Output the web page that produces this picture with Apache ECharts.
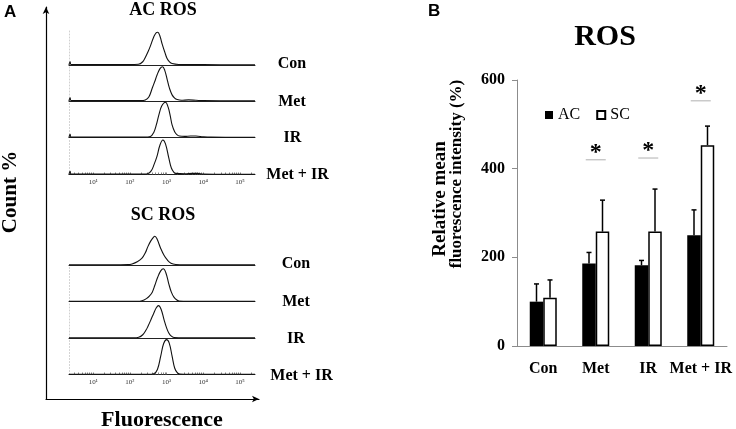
<!DOCTYPE html>
<html><head><meta charset="utf-8">
<script src="https://cdn.jsdelivr.net/npm/echarts@6/dist/echarts.min.js"></script>
<style>html,body{margin:0;padding:0;background:#fff}#c{width:736px;height:429px}</style>
</head><body><div id="c"></div>
<script>
// ---------- DATA ----------
// Panel A: flow cytometry histograms, x = log10(fluorescence), y = relative count (peak-normalised, 0-100)
const histLabels = ['Con', 'Met', 'IR', 'Met + IR'];
const fluorTickValues = [1, 2, 3, 4, 5];
const fluorTickLabels = ['10¹', '10²', '10³', '10⁴', '10⁵'];
const acCon = [[0.34,0],[0.37,9],[0.40,1],[1.0,1],[2.0,1],[2.23,2],[2.35,9],[2.42,21],[2.5,38],[2.56,53],[2.65,78],[2.72,90],[2.76,91],[2.82,80],[2.88,58],[2.95,36],[3.01,19],[3.08,9],[3.15,4],[3.33,1.5],[4.0,1],[5.41,0.5]];
const acMet = [[0.34,0],[0.37,9],[0.40,1],[1.5,1],[2.3,1],[2.42,3],[2.52,12],[2.61,36],[2.68,55],[2.74,72],[2.82,90],[2.89,95],[2.95,85],[3.02,58],[3.08,35],[3.15,17],[3.22,8],[3.29,4],[3.4,2],[3.6,3],[3.8,2],[4.0,1],[5.41,0.5]];
const acIR = [[0.34,0],[0.37,9],[0.40,1],[1.5,1],[2.4,1],[2.56,3],[2.65,14],[2.72,35],[2.79,63],[2.87,88],[2.97,98],[3.04,85],[3.1,60],[3.15,35],[3.22,16],[3.28,8],[3.35,4],[3.5,3],[3.65,4],[3.8,4],[4.0,2],[4.2,1],[5.41,0.5]];
const acMetIR = [[0.34,0],[0.37,9],[0.40,1],[1.5,1],[2.4,1],[2.48,2],[2.58,10],[2.66,28],[2.74,51],[2.82,82],[2.90,96],[2.97,85],[3.06,46],[3.13,18],[3.2,6],[3.25,3],[3.5,2],[3.7,3],[3.85,3],[4.0,1.5],[5.41,0.5]];
const scCon = [[0.34,0.5],[1.5,0.5],[1.95,1],[2.06,3],[2.2,9],[2.33,19],[2.42,34],[2.49,51],[2.57,67],[2.64,77],[2.68,80],[2.74,72],[2.84,46],[2.93,27],[3.02,14],[3.12,5],[3.25,1.5],[3.5,0.5],[5.41,0.5]];
const scMet = [[0.34,0.5],[2.2,0.5],[2.33,2],[2.45,8],[2.53,15],[2.61,26],[2.68,45],[2.76,68],[2.84,85],[2.91,91],[2.98,80],[3.06,49],[3.13,26],[3.2,12],[3.28,4],[3.34,1.5],[3.6,0.5],[5.41,0.5]];
const scIR = [[0.34,0.5],[2.1,0.5],[2.24,2],[2.35,9],[2.44,22],[2.49,32],[2.57,50],[2.65,69],[2.72,84],[2.78,90],[2.85,80],[2.93,51],[3.0,28],[3.06,14],[3.13,5],[3.2,1.5],[3.5,0.5],[5.41,0.5]];
const scMetIR = [[0.34,0.5],[2.5,0.5],[2.65,2],[2.75,14],[2.84,51],[2.92,86],[3.0,97],[3.07,88],[3.15,51],[3.22,18],[3.29,5],[3.36,1.5],[3.6,0.5],[5.41,0.5]];
const acCurves = [acCon, acMet, acIR, acMetIR];
const scCurves = [scCon, scMet, scIR, scMetIR];

// Panel B: relative mean fluorescence intensity (%)
const categories = ['Con', 'Met', 'IR', 'Met + IR'];
const acValues = [100, 186, 182, 250];
const acSD = [40, 25, 11, 57];
const scValues = [109, 258, 258, 453];
const scSD = [40, 71, 96, 43];
const sigCategoryIndex = [1, 2, 3];
const sigLevel = [420, 424, 553];
const yTicksB = [0, 200, 400, 600];

// ---------- LAYOUT ----------
const SERIF = '"Liberation Serif","Times New Roman",serif';
const SANS = '"Liberation Sans",Arial,sans-serif';
const histLeft = 69, histWidth = 186, histHeight = 36;
const acBase = [65, 101, 137.5, 174.5];
const scBase = [265, 301.5, 338, 374.5];

const grid = [], xAxis = [], yAxis = [], series = [];
const minorTicks = [];
for (let n = 0; n <= 5; n++) for (let k = 1; k <= 9; k++) {
  const v = n + Math.log10(k);
  if (v >= 0.34 && v <= 5.41) minorTicks.push(v);
}

function addHist(base, data, isBottom, showY) {
  const idx = grid.length;
  grid.push({left: histLeft, top: base - histHeight, width: histWidth, height: histHeight});
  xAxis.push({
    type: 'value', gridIndex: idx, min: 0.34, max: 5.41,
    axisLine: {show: true, lineStyle: {color: '#222', width: 1}},
    axisTick: {show: isBottom, inside: true, length: 2, customValues: minorTicks, lineStyle: {color: '#666', width: 0.8}},
    axisLabel: {show: isBottom, customValues: fluorTickValues, margin: 4,
      formatter: v => fluorTickLabels[fluorTickValues.indexOf(Math.round(v))],
      fontFamily: SERIF, fontSize: 7, color: '#333'},
    splitLine: {show: false}
  });
  yAxis.push({
    type: 'value', gridIndex: idx, min: 0, max: 100,
    axisLine: {show: showY, lineStyle: {color: '#d0d0d0', width: 1, type: [1, 2]}},
    axisTick: {show: false}, axisLabel: {show: false}, splitLine: {show: false}
  });
  series.push({
    type: 'line', xAxisIndex: idx, yAxisIndex: idx, data: data,
    showSymbol: false, smooth: 0.4, silent: true,
    lineStyle: {color: '#111', width: 1.1}
  });
}
acCurves.forEach((d, i) => addHist(acBase[i], d, i === 3, true));
scCurves.forEach((d, i) => addHist(scBase[i], d, i === 3, i > 0));

// outer arrow frame of panel A
const fIdx = grid.length;
grid.push({left: 46, top: 7, width: 213, height: 392});
xAxis.push({type: 'value', gridIndex: fIdx, min: 0, max: 1,
  axisLine: {show: true, symbol: ['none', 'arrow'], symbolSize: [5, 7], lineStyle: {color: '#000', width: 1.2}},
  axisTick: {show: false}, axisLabel: {show: false}, splitLine: {show: false}});
yAxis.push({type: 'value', gridIndex: fIdx, min: 0, max: 1,
  axisLine: {show: true, symbol: ['none', 'arrow'], symbolSize: [5, 7], lineStyle: {color: '#000', width: 1.2}},
  axisTick: {show: false}, axisLabel: {show: false}, splitLine: {show: false}});
series.push({type: 'line', xAxisIndex: fIdx, yAxisIndex: fIdx, data: [], silent: true});

// panel B
const bIdx = grid.length;
grid.push({left: 517, top: 80, width: 210, height: 266});
xAxis.push({type: 'category', gridIndex: bIdx, data: categories,
  axisLine: {lineStyle: {color: '#8c8c8c', width: 1}}, axisTick: {show: false},
  axisLabel: {interval: 0, margin: 15, fontFamily: SERIF, fontWeight: 'bold', fontSize: 16, color: '#000'}});
yAxis.push({type: 'value', gridIndex: bIdx, min: 0, max: 600, interval: 200,
  axisLine: {show: true, lineStyle: {color: '#8c8c8c', width: 1}},
  axisTick: {show: true, length: 5, lineStyle: {color: '#8c8c8c'}},
  axisLabel: {margin: 12, fontFamily: SERIF, fontWeight: 'bold', fontSize: 16, color: '#000'},
  splitLine: {show: false}});

const BAR_W = 13.5;
series.push({name: 'AC', type: 'bar', xAxisIndex: bIdx, yAxisIndex: bIdx, data: acValues,
  barWidth: BAR_W, barGap: '0%', itemStyle: {color: '#000'}});
series.push({name: 'SC', type: 'bar', xAxisIndex: bIdx, yAxisIndex: bIdx, data: scValues,
  barWidth: BAR_W, barGap: '0%', itemStyle: {color: '#fff', borderColor: '#000', borderWidth: 1.5}});

function errRender(offset) {
  return function (params, api) {
    const c = api.value(0), v = api.value(1), sd = api.value(2);
    const p0 = api.coord([c, v]), p1 = api.coord([c, v + sd]);
    const x = p0[0] + offset;
    return {type: 'group', children: [
      {type: 'line', shape: {x1: x, y1: p0[1], x2: x, y2: p1[1]}, style: {stroke: '#000', lineWidth: 1.5}},
      {type: 'line', shape: {x1: x - 2.5, y1: p1[1], x2: x + 2.5, y2: p1[1]}, style: {stroke: '#000', lineWidth: 1.5}}
    ]};
  };
}
series.push({type: 'custom', name: 'errAC', xAxisIndex: bIdx, yAxisIndex: bIdx, silent: true,
  renderItem: errRender(-BAR_W / 2), data: categories.map((c, i) => [i, acValues[i], acSD[i]]), z: 5});
series.push({type: 'custom', name: 'errSC', xAxisIndex: bIdx, yAxisIndex: bIdx, silent: true,
  renderItem: errRender(BAR_W / 2), data: categories.map((c, i) => [i, scValues[i], scSD[i]]), z: 5});
series.push({type: 'custom', name: 'sig', xAxisIndex: bIdx, yAxisIndex: bIdx, silent: true, z: 5,
  renderItem: function (params, api) {
    const p = api.coord([api.value(0), api.value(1)]);
    return {type: 'group', children: [
      {type: 'line', shape: {x1: p[0] - 10, y1: p[1], x2: p[0] + 10, y2: p[1]}, style: {stroke: '#b0b0b0', lineWidth: 1}},
      {type: 'text', x: p[0], y: p[1] - 7, style: {text: '*', font: 'bold 24px ' + SERIF, fill: '#000', align: 'center', verticalAlign: 'middle'}}
    ]};
  },
  data: sigCategoryIndex.map((c, i) => [c, sigLevel[i]])});

// ---------- TEXT ----------
const graphic = [
  {type: 'text', x: 4, y: 4, style: {text: 'A', font: 'bold 17px ' + SANS, fill: '#000', verticalAlign: 'top'}},
  {type: 'text', x: 428, y: 3, style: {text: 'B', font: 'bold 17px ' + SANS, fill: '#000', verticalAlign: 'top'}},
  {type: 'text', x: 163, y: 10, style: {text: 'AC ROS', font: 'bold 18px ' + SERIF, fill: '#000', align: 'center', verticalAlign: 'middle'}},
  {type: 'text', x: 163, y: 215, style: {text: 'SC ROS', font: 'bold 18px ' + SERIF, fill: '#000', align: 'center', verticalAlign: 'middle'}},
  {type: 'text', x: 11, y: 192, rotation: Math.PI / 2, style: {text: 'Count %', font: 'bold 21px ' + SERIF, fill: '#000', align: 'center', verticalAlign: 'middle'}},
  {type: 'text', x: 162, y: 420, style: {text: 'Fluorescence', font: 'bold 22px ' + SERIF, fill: '#000', align: 'center', verticalAlign: 'middle'}},
  {type: 'text', x: 605, y: 37, style: {text: 'ROS', font: 'bold 30px ' + SERIF, fill: '#000', align: 'center', verticalAlign: 'middle'}},
  {type: 'text', x: 440, y: 199, rotation: Math.PI / 2, style: {text: 'Relative mean', font: 'bold 19px ' + SERIF, fill: '#000', align: 'center', verticalAlign: 'middle'}},
  {type: 'text', x: 457, y: 174, rotation: Math.PI / 2, style: {text: 'fluorescence intensity (%)', font: 'bold 17px ' + SERIF, fill: '#000', align: 'center', verticalAlign: 'middle'}}
];
const acLabelX = [292, 292, 292.5, 297.5], acLabelY = [64, 102, 138, 175];
const scLabelX = [296, 296, 296, 301.5], scLabelY = [264, 302, 339, 376];
histLabels.forEach((t, i) => {
  graphic.push({type: 'text', x: acLabelX[i], y: acLabelY[i], style: {text: t, font: 'bold 16px ' + SERIF, fill: '#000', align: 'center', verticalAlign: 'middle'}});
  graphic.push({type: 'text', x: scLabelX[i], y: scLabelY[i], style: {text: t, font: 'bold 16px ' + SERIF, fill: '#000', align: 'center', verticalAlign: 'middle'}});
});

const chart = echarts.init(document.getElementById('c'), null, {renderer: 'canvas'});
chart.setOption({
  animation: false,
  backgroundColor: '#fff',
  grid: grid, xAxis: xAxis, yAxis: yAxis, series: series,
  legend: {data: ['AC', 'SC'], left: 540, top: 102, icon: 'rect', itemWidth: 8, itemHeight: 8, itemGap: 16,
    selectedMode: false, textStyle: {fontFamily: SERIF, fontSize: 16, color: '#000'}},
  graphic: graphic
});
</script></body></html>
